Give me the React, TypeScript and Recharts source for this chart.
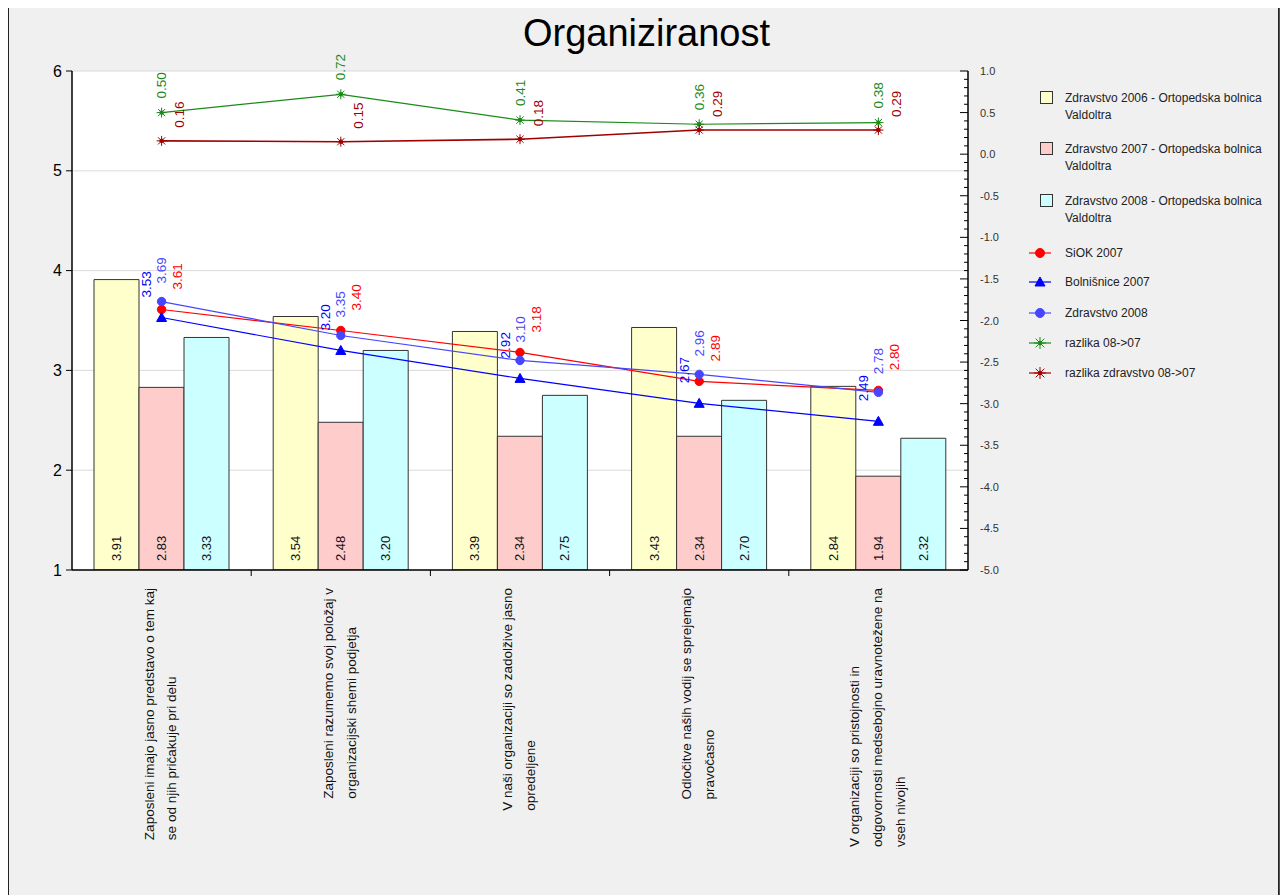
import React from 'react';
import { ComposedChart, Bar, Line, XAxis, YAxis, CartesianGrid, LabelList } from 'recharts';

const categories = [
  'Zaposleni imajo jasno predstavo o tem kaj\nse od njih pričakuje pri delu',
  'Zaposleni razumemo svoj položaj v\norganizacijski shemi podjetja',
  'V naši organizaciji so zadolžive jasno\nopredeljene',
  'Odločitve naših vodij se sprejemajo\npravočasno',
  'V organizaciji so pristojnosti in\nodgovornosti medsebojno uravnotežene na\nvseh nivojih',
];
const zdravstvo2006 = [3.91, 3.54, 3.39, 3.43, 2.84];
const zdravstvo2007 = [2.83, 2.48, 2.34, 2.34, 1.94];
const zdravstvo2008Bars = [3.33, 3.2, 2.75, 2.7, 2.32];
const siok2007 = [3.61, 3.4, 3.18, 2.89, 2.8];
const bolnisnice2007 = [3.53, 3.2, 2.92, 2.67, 2.49];
const zdravstvo2008Line = [3.69, 3.35, 3.1, 2.96, 2.78];
const razlika0807 = [0.5, 0.72, 0.41, 0.36, 0.38];
const razlikaZdravstvo0807 = [0.16, 0.15, 0.18, 0.29, 0.29];

const leftTicks = [1, 2, 3, 4, 5, 6];
const rightMajorTicks = [1.0, 0.5, 0.0, -0.5, -1.0, -1.5, -2.0, -2.5, -3.0, -3.5, -4.0, -4.5, -5.0];

const seriesNames = {
  z2006: 'Zdravstvo 2006 - Ortopedska bolnica\nValdoltra',
  z2007: 'Zdravstvo 2007 - Ortopedska bolnica\nValdoltra',
  z2008: 'Zdravstvo 2008 - Ortopedska bolnica\nValdoltra',
  siok: 'SiOK 2007',
  bol: 'Bolnišnice 2007',
  z2008l: 'Zdravstvo 2008',
  raz: 'razlika 08->07',
  razz: 'razlika zdravstvo 08->07',
};

const title = 'Organiziranost';

// minor ticks every 0.1 between the major ticks
const rightTicks: number[] = [];
for (let i = 0; i < rightMajorTicks.length; i++) {
  rightTicks.push(rightMajorTicks[i]);
  if (i < rightMajorTicks.length - 1) {
    for (let k = 1; k < 5; k++) {
      rightTicks.push(Math.round((rightMajorTicks[i] - k * 0.1) * 10) / 10);
    }
  }
}

const data = categories.map((name, i) => ({
  name,
  z2006: zdravstvo2006[i],
  z2007: zdravstvo2007[i],
  z2008: zdravstvo2008Bars[i],
  siok: siok2007[i],
  bol: bolnisnice2007[i],
  z2008l: zdravstvo2008Line[i],
  raz: razlika0807[i],
  razz: razlikaZdravstvo0807[i],
}));

const FONT = '"Liberation Sans", Arial, sans-serif';
const C = {
  yellow: '#ffffcc',
  pink: '#ffcccc',
  cyan: '#ccffff',
  red: '#ff0000',
  blue: '#0000ff',
  blue2: '#4646ff',
  green: '#1a8a1a',
  darkred: '#a00000',
};

const CHART_W = 1260;
const CHART_H = 880;
const MARGIN = { top: 64, right: 251, bottom: 0, left: 0 };
const LEFT_AXIS_W = 63;
const RIGHT_AXIS_W = 50;
const PLOT_W = CHART_W - MARGIN.left - MARGIN.right - LEFT_AXIS_W - RIGHT_AXIS_W;
const BAND = PLOT_W / categories.length;
const CAT_FONT_SIZE = 13.5;

let measureCtx: CanvasRenderingContext2D | null = null;
function textWidth(t: string, size: number) {
  if (typeof document === 'undefined') return t.length * size * 0.5;
  if (!measureCtx) measureCtx = document.createElement('canvas').getContext('2d');
  if (!measureCtx) return t.length * size * 0.5;
  measureCtx.font = `${size}px "Liberation Sans", Arial, sans-serif`;
  return measureCtx.measureText(t).width;
}

const XTick = (props: any) => {
  const { x, y, payload, index } = props;
  const lines = String(payload.value).split('\n');
  const n = lines.length;
  const maxW = Math.max(...lines.map((l) => textWidth(l, CAT_FONT_SIZE)));
  return (
    <g>
      {index < categories.length - 1 && (
        <line x1={x + BAND / 2} x2={x + BAND / 2} y1={y} y2={y + 6} stroke="#000" strokeWidth={1} />
      )}
      <g transform={`translate(${x},${y + 18}) rotate(-90)`}>
        {lines.map((ln, i) => (
          <text
            key={i}
            x={-maxW}
            y={(i - (n - 1) / 2) * 22.7 - 1}
            textAnchor="start"
            dominantBaseline="central"
            fontSize={CAT_FONT_SIZE}
            fontFamily={FONT}
            fill="#111"
          >
            {ln}
          </text>
        ))}
      </g>
    </g>
  );
};

const RightTick = (props: any) => {
  const { x, y, payload } = props;
  const v = payload.value as number;
  const major = rightMajorTicks.some((t) => Math.abs(t - v) < 1e-6);
  return (
    <g>
      <line x1={x} x2={x - (major ? 8 : 4)} y1={y} y2={y} stroke="#000" strokeWidth={1} />
      {major && (
        <text x={x + 12} y={y} dominantBaseline="central" fontSize={11} fontFamily={FONT} fill="#333">
          {v.toFixed(1)}
        </text>
      )}
    </g>
  );
};

const BarValueLabel = (props: any) => {
  const { x, y, width, height, value } = props;
  const cx = x + width / 2;
  const by = y + height - 9;
  return (
    <text
      transform={`translate(${cx},${by}) rotate(-90)`}
      textAnchor="start"
      dominantBaseline="central"
      fontSize={13}
      fontFamily={FONT}
      fill="#111"
    >
      {Number(value).toFixed(2)}
    </text>
  );
};

const makePointLabel = (color: string, dx: number, dy: number) => (props: any) => {
  const { x, y, value } = props;
  return (
    <text
      transform={`translate(${x + dx},${y - dy}) rotate(-90)`}
      textAnchor="start"
      dominantBaseline="central"
      fontSize={13.5}
      fontFamily={FONT}
      fill={color}
    >
      {Number(value).toFixed(2)}
    </text>
  );
};

const circleShape = (cx: number, cy: number, color: string, r = 4.2) => (
  <circle cx={cx} cy={cy} r={r} fill={color} stroke={color} />
);
const triangleShape = (cx: number, cy: number, color: string) => (
  <polygon points={`${cx},${cy - 5} ${cx - 5},${cy + 4} ${cx + 5},${cy + 4}`} fill={color} stroke={color} />
);
const starShape = (cx: number, cy: number, color: string, r = 5) => {
  const d = r * 0.72;
  return (
    <g stroke={color} strokeWidth={1}>
      <line x1={cx - r} x2={cx + r} y1={cy} y2={cy} />
      <line x1={cx} x2={cx} y1={cy - r} y2={cy + r} />
      <line x1={cx - d} x2={cx + d} y1={cy - d} y2={cy + d} />
      <line x1={cx - d} x2={cx + d} y1={cy + d} y2={cy - d} />
      <circle cx={cx} cy={cy} r={1.8} fill={color} />
    </g>
  );
};

const dotFn = (kind: string, color: string) => (props: any) => {
  const { cx, cy, index } = props;
  if (cx == null || cy == null) return <g key={index} />;
  if (kind === 'circle') return <g key={index}>{circleShape(cx, cy, color)}</g>;
  if (kind === 'triangle') return <g key={index}>{triangleShape(cx, cy, color)}</g>;
  return <g key={index}>{starShape(cx, cy, color)}</g>;
};

const Legend = () => {
  const boxes = [
    { key: 'z2006', fill: C.yellow, y: 21 },
    { key: 'z2007', fill: C.pink, y: 72 },
    { key: 'z2008', fill: C.cyan, y: 124 },
  ];
  const lines = [
    { key: 'siok', color: C.red, kind: 'circle', y: 183 },
    { key: 'bol', color: C.blue, kind: 'triangle', y: 212 },
    { key: 'z2008l', color: C.blue2, kind: 'circle', y: 243 },
    { key: 'raz', color: C.green, kind: 'star', y: 273 },
    { key: 'razz', color: C.darkred, kind: 'star', y: 303 },
  ];
  return (
    <svg
      width={260}
      height={330}
      style={{ position: 'absolute', left: 1011, top: 63 }}
      fontFamily={FONT}
    >
      {boxes.map((b) => {
        const txt = (seriesNames as any)[b.key].split('\n');
        return (
          <g key={b.key}>
            <rect x={20.5} y={b.y + 0.5} width={12} height={12} fill={b.fill} stroke="#333" strokeWidth={1} />
            {txt.map((t: string, i: number) => (
              <text key={i} x={45} y={b.y + 7 + i * 17} dominantBaseline="central" fontSize={12} fill="#222">
                {t}
              </text>
            ))}
          </g>
        );
      })}
      {lines.map((l) => (
        <g key={l.key}>
          <line x1={9} x2={31} y1={l.y} y2={l.y} stroke={l.color} strokeWidth={1.2} />
          {l.kind === 'circle'
            ? circleShape(20, l.y, l.color, 4.5)
            : l.kind === 'triangle'
            ? triangleShape(20, l.y, l.color)
            : starShape(20, l.y, l.color, 6)}
          <text x={45} y={l.y} dominantBaseline="central" fontSize={12} fill="#222">
            {(seriesNames as any)[l.key]}
          </text>
        </g>
      ))}
    </svg>
  );
};

export default function App() {
  return (
    <div
      style={{
        position: 'relative',
        width: 1269,
        height: 895,
        marginTop: -2,
        background: '#f0f0f0',
        border: '1px solid #222',
        boxShadow: '6px 0 3px #555',
        fontFamily: FONT,
        overflow: 'visible',
      }}
    >
      <div
        style={{
          position: 'absolute',
          left: 3,
          top: 4,
          width: 1269,
          textAlign: 'center',
          fontSize: 38,
          lineHeight: '44px',
          color: '#000',
          fontFamily: FONT,
        }}
      >
        {title}
      </div>
      <div style={{ position: 'absolute', left: 0, top: 0 }}>
        <ComposedChart
          width={CHART_W}
          height={CHART_H}
          data={data}
          margin={MARGIN}
          barGap={0}
          barSize={45}
        >
          <CartesianGrid yAxisId="left" vertical={false} stroke="#dadada" fill="#ffffff" />
          <XAxis
            dataKey="name"
            type="category"
            interval={0}
            height={CHART_H - MARGIN.top - 499}
            tickLine={false}
            tickSize={0}
            tickMargin={0}
            axisLine={{ stroke: '#000', strokeWidth: 1.5 }}
            tick={<XTick />}
          />
          <YAxis
            yAxisId="left"
            orientation="left"
            domain={[1, 6]}
            ticks={leftTicks}
            interval={0}
            width={LEFT_AXIS_W}
            tickSize={6}
            tickMargin={4}
            tickLine={{ stroke: '#000' }}
            axisLine={{ stroke: '#000', strokeWidth: 1.5 }}
            tick={{ fontSize: 16, fill: '#000', fontFamily: FONT }}
            allowDataOverflow
          />
          <YAxis
            yAxisId="right"
            orientation="right"
            domain={[-5, 1]}
            ticks={rightTicks}
            interval={0}
            width={RIGHT_AXIS_W}
            tickSize={0}
            tickMargin={0}
            tickLine={false}
            axisLine={{ stroke: '#000', strokeWidth: 1.5 }}
            tick={<RightTick />}
            allowDataOverflow
          />
          <Bar yAxisId="left" dataKey="z2006" fill={C.yellow} stroke="#333" strokeWidth={1} isAnimationActive={false}>
            <LabelList dataKey="z2006" content={<BarValueLabel />} />
          </Bar>
          <Bar yAxisId="left" dataKey="z2007" fill={C.pink} stroke="#333" strokeWidth={1} isAnimationActive={false}>
            <LabelList dataKey="z2007" content={<BarValueLabel />} />
          </Bar>
          <Bar yAxisId="left" dataKey="z2008" fill={C.cyan} stroke="#333" strokeWidth={1} isAnimationActive={false}>
            <LabelList dataKey="z2008" content={<BarValueLabel />} />
          </Bar>
          <Line
            yAxisId="left"
            dataKey="siok"
            stroke={C.red}
            strokeWidth={1.2}
            dot={dotFn('circle', C.red)}
            activeDot={false}
            isAnimationActive={false}
          >
            <LabelList dataKey="siok" content={makePointLabel(C.red, 16, 20)} />
          </Line>
          <Line
            yAxisId="left"
            dataKey="bol"
            stroke={C.blue}
            strokeWidth={1.2}
            dot={dotFn('triangle', C.blue)}
            activeDot={false}
            isAnimationActive={false}
          >
            <LabelList dataKey="bol" content={makePointLabel(C.blue, -15, 20)} />
          </Line>
          <Line
            yAxisId="left"
            dataKey="z2008l"
            stroke={C.blue2}
            strokeWidth={1.2}
            dot={dotFn('circle', C.blue2)}
            activeDot={false}
            isAnimationActive={false}
          >
            <LabelList dataKey="z2008l" content={makePointLabel(C.blue2, 0, 18)} />
          </Line>
          <Line
            yAxisId="right"
            dataKey="raz"
            stroke={C.green}
            strokeWidth={1.2}
            dot={dotFn('star', C.green)}
            activeDot={false}
            isAnimationActive={false}
          >
            <LabelList dataKey="raz" content={makePointLabel(C.green, 0, 14)} />
          </Line>
          <Line
            yAxisId="right"
            dataKey="razz"
            stroke={C.darkred}
            strokeWidth={1.6}
            dot={dotFn('star', C.darkred)}
            activeDot={false}
            isAnimationActive={false}
          >
            <LabelList dataKey="razz" content={makePointLabel(C.darkred, 18, 13)} />
          </Line>
        </ComposedChart>
      </div>
      <Legend />
    </div>
  );
}
